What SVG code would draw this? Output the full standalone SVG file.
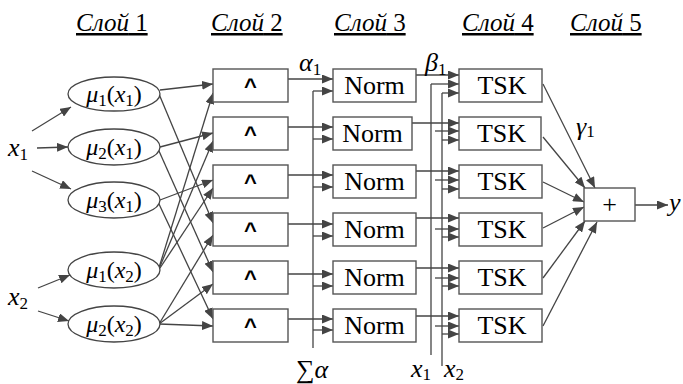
<svg xmlns="http://www.w3.org/2000/svg" width="683" height="384" viewBox="0 0 683 384">
  <defs>
    <marker id="arr" markerUnits="userSpaceOnUse" markerWidth="11" markerHeight="9" refX="11" refY="4.5" orient="auto">
      <path d="M0,0 L11,4.5 L0,9 z" fill="#444"/>
    </marker>
    <style>
      .it { font-style: italic; }
      .title { font-size: 25px; text-decoration: underline; }
      .lbl { font-size: 26px; }
      .sub { font-size: 17px; }
      .mu { font-size: 24px; }
      .box { fill: #fff; stroke: #555; stroke-width: 1.4; }
      .ell { fill: #fff; stroke: #444; stroke-width: 1.3; }
      .c { fill: none; stroke: #444; stroke-width: 1.3; }
      .a { fill: none; stroke: #444; stroke-width: 1.3; marker-end: url(#arr); }
      .op { font-weight: bold; font-size: 22px; }
    </style>
  </defs>
  <rect width="683" height="384" fill="#fff"/>

  <!-- layer titles -->
  <g id="titles" font-family="Liberation Serif">
    <text class="title" x="76" y="31"><tspan class="it">&#1057;&#1083;&#1086;&#1081;</tspan> 1</text>
    <text class="title" x="211" y="31"><tspan class="it">&#1057;&#1083;&#1086;&#1081;</tspan> 2</text>
    <text class="title" x="334" y="31"><tspan class="it">&#1057;&#1083;&#1086;&#1081;</tspan> 3</text>
    <text class="title" x="462" y="31"><tspan class="it">&#1057;&#1083;&#1086;&#1081;</tspan> 4</text>
    <text class="title" x="570" y="31"><tspan class="it">&#1057;&#1083;&#1086;&#1081;</tspan> 5</text>
  </g>

  <!-- connectors -->
  <g id="connectors">
    <!-- inputs to membership functions -->
    <line class="a" x1="32" y1="131" x2="71" y2="107"/>
    <line class="a" x1="37" y1="148" x2="68" y2="147"/>
    <line class="a" x1="32" y1="171" x2="71" y2="189"/>
    <line class="a" x1="38" y1="288" x2="70" y2="275"/>
    <line class="a" x1="38" y1="311" x2="69" y2="321"/>

    <!-- membership functions to rule nodes -->
    <line class="a" x1="160" y1="90" x2="213" y2="84"/>
    <line class="a" x1="159" y1="94" x2="213" y2="223"/>
    <line class="a" x1="160" y1="147" x2="213" y2="133"/>
    <line class="a" x1="159" y1="151" x2="213" y2="272"/>
    <line class="a" x1="160" y1="200" x2="213" y2="180"/>
    <line class="a" x1="159" y1="204" x2="213" y2="319"/>
    <line class="a" x1="158" y1="271" x2="213" y2="93"/>
    <line class="a" x1="158" y1="271" x2="213" y2="141"/>
    <line class="a" x1="158" y1="271" x2="213" y2="188"/>
    <line class="a" x1="159" y1="324" x2="213" y2="235"/>
    <line class="a" x1="159" y1="324" x2="213" y2="284"/>
    <line class="a" x1="159" y1="324" x2="213" y2="326"/>

    <!-- layer 2 to layer 3 -->
    <line class="a" x1="288" y1="79" x2="333" y2="79"/>
    <line class="a" x1="288" y1="127" x2="333" y2="127"/>
    <line class="a" x1="288" y1="175" x2="333" y2="175"/>
    <line class="a" x1="288" y1="224" x2="333" y2="224"/>
    <line class="a" x1="288" y1="274" x2="333" y2="274"/>
    <line class="a" x1="288" y1="319" x2="333" y2="319"/>
    <!-- sum bus -->
    <line class="c" x1="313" y1="91" x2="313" y2="348"/>
    <line class="a" x1="313" y1="91" x2="333" y2="91"/>
    <line class="a" x1="313" y1="139" x2="333" y2="139"/>
    <line class="a" x1="313" y1="187" x2="333" y2="187"/>
    <line class="a" x1="313" y1="236" x2="333" y2="236"/>
    <line class="a" x1="313" y1="286" x2="333" y2="286"/>
    <line class="a" x1="313" y1="330" x2="333" y2="330"/>

    <!-- layer 3 to layer 4 -->
    <line class="a" x1="416" y1="75" x2="459" y2="75"/>
    <line class="a" x1="412" y1="123" x2="459" y2="123"/>
    <line class="a" x1="416" y1="171" x2="459" y2="171"/>
    <line class="a" x1="416" y1="218" x2="459" y2="218"/>
    <line class="a" x1="416" y1="268" x2="459" y2="268"/>
    <line class="a" x1="416" y1="316" x2="459" y2="316"/>
    <!-- input buses x1, x2 -->
    <line class="c" x1="431" y1="84" x2="431" y2="355"/>
    <line class="c" x1="442" y1="93" x2="442" y2="366"/>
    <line class="a" x1="431" y1="84" x2="459" y2="84"/>
    <line class="a" x1="442" y1="93" x2="459" y2="93"/>
    <line class="a" x1="435" y1="131" x2="459" y2="131"/>
    <line class="a" x1="442" y1="140" x2="459" y2="140"/>
    <line class="a" x1="435" y1="180" x2="459" y2="180"/>
    <line class="a" x1="442" y1="189" x2="459" y2="189"/>
    <line class="a" x1="435" y1="229" x2="459" y2="229"/>
    <line class="a" x1="442" y1="237" x2="459" y2="237"/>
    <line class="a" x1="435" y1="278" x2="459" y2="278"/>
    <line class="a" x1="442" y1="286" x2="459" y2="286"/>
    <line class="a" x1="435" y1="326" x2="459" y2="326"/>
    <line class="a" x1="442" y1="334" x2="459" y2="334"/>

    <!-- layer 4 to summation -->
    <line class="a" x1="543" y1="84" x2="595" y2="188"/>
    <line class="a" x1="543" y1="137" x2="585" y2="188"/>
    <line class="a" x1="543" y1="182" x2="584" y2="202"/>
    <line class="a" x1="543" y1="228" x2="584" y2="207"/>
    <line class="a" x1="543" y1="278" x2="585" y2="221"/>
    <line class="a" x1="543" y1="326" x2="597" y2="222"/>

    <!-- output -->
    <line class="a" x1="635" y1="205" x2="668" y2="205"/>
  </g>

  <!-- input labels -->
  <g id="inputs" font-family="Liberation Serif">
    <text class="lbl" x="8" y="156"><tspan class="it">x</tspan><tspan class="sub" dy="4">1</tspan></text>
    <text class="lbl" x="8" y="305"><tspan class="it">x</tspan><tspan class="sub" dy="4">2</tspan></text>
  </g>

  <!-- layer 1: membership functions -->
  <g font-family="Liberation Serif" text-anchor="middle">
    <g id="mu1x1">
      <ellipse class="ell" cx="114" cy="94" rx="46" ry="17"/>
      <text class="mu" x="114" y="102"><tspan class="it">&#956;</tspan><tspan class="sub" dy="4">1</tspan><tspan dy="-4">(</tspan><tspan class="it">x</tspan><tspan class="sub" dy="4">1</tspan><tspan dy="-4">)</tspan></text>
    </g>
    <g id="mu2x1">
      <ellipse class="ell" cx="114" cy="147" rx="46" ry="18"/>
      <text class="mu" x="114" y="155"><tspan class="it">&#956;</tspan><tspan class="sub" dy="4">2</tspan><tspan dy="-4">(</tspan><tspan class="it">x</tspan><tspan class="sub" dy="4">1</tspan><tspan dy="-4">)</tspan></text>
    </g>
    <g id="mu3x1">
      <ellipse class="ell" cx="114" cy="200" rx="46" ry="18"/>
      <text class="mu" x="114" y="208"><tspan class="it">&#956;</tspan><tspan class="sub" dy="4">3</tspan><tspan dy="-4">(</tspan><tspan class="it">x</tspan><tspan class="sub" dy="4">1</tspan><tspan dy="-4">)</tspan></text>
    </g>
    <g id="mu1x2">
      <ellipse class="ell" cx="114" cy="270" rx="46" ry="18"/>
      <text class="mu" x="114" y="278"><tspan class="it">&#956;</tspan><tspan class="sub" dy="4">1</tspan><tspan dy="-4">(</tspan><tspan class="it">x</tspan><tspan class="sub" dy="4">2</tspan><tspan dy="-4">)</tspan></text>
    </g>
    <g id="mu2x2">
      <ellipse class="ell" cx="114" cy="324" rx="46" ry="18"/>
      <text class="mu" x="114" y="332"><tspan class="it">&#956;</tspan><tspan class="sub" dy="4">2</tspan><tspan dy="-4">(</tspan><tspan class="it">x</tspan><tspan class="sub" dy="4">2</tspan><tspan dy="-4">)</tspan></text>
    </g>
  </g>

  <!-- layer 2: rule (AND) nodes -->
  <g font-family="Liberation Sans" text-anchor="middle">
    <g id="and1"><rect class="box" x="213" y="69" width="75" height="33"/><text class="op" x="250.5" y="94">^</text></g>
    <g id="and2"><rect class="box" x="213" y="117" width="75" height="33"/><text class="op" x="250.5" y="142">^</text></g>
    <g id="and3"><rect class="box" x="213" y="165" width="75" height="33"/><text class="op" x="250.5" y="190">^</text></g>
    <g id="and4"><rect class="box" x="213" y="213" width="75" height="33"/><text class="op" x="250.5" y="238">^</text></g>
    <g id="and5"><rect class="box" x="213" y="261" width="75" height="33"/><text class="op" x="250.5" y="286">^</text></g>
    <g id="and6"><rect class="box" x="213" y="309" width="75" height="33"/><text class="op" x="250.5" y="334">^</text></g>
  </g>

  <!-- layers 3 and 4: normalisation and TSK consequents, layer 5: summation -->
  <g font-family="Liberation Serif" text-anchor="middle">
    <g id="norm1"><rect class="box" x="333" y="69" width="83" height="33"/><text class="lbl" x="374.5" y="94">Norm</text></g>
    <g id="norm2"><rect class="box" x="333" y="117" width="79" height="33"/><text class="lbl" x="372.5" y="142">Norm</text></g>
    <g id="norm3"><rect class="box" x="333" y="165" width="83" height="33"/><text class="lbl" x="374.5" y="190">Norm</text></g>
    <g id="norm4"><rect class="box" x="333" y="213" width="83" height="33"/><text class="lbl" x="374.5" y="238">Norm</text></g>
    <g id="norm5"><rect class="box" x="333" y="261" width="83" height="33"/><text class="lbl" x="374.5" y="286">Norm</text></g>
    <g id="norm6"><rect class="box" x="333" y="309" width="83" height="33"/><text class="lbl" x="374.5" y="334">Norm</text></g>

    <g id="tsk1"><rect class="box" x="459" y="69" width="83" height="33"/><text class="lbl" x="502" y="94">TSK</text></g>
    <g id="tsk2"><rect class="box" x="459" y="117" width="82" height="33"/><text class="lbl" x="501.5" y="142">TSK</text></g>
    <g id="tsk3"><rect class="box" x="459" y="165" width="83" height="33"/><text class="lbl" x="502" y="190">TSK</text></g>
    <g id="tsk4"><rect class="box" x="459" y="213" width="83" height="33"/><text class="lbl" x="502" y="238">TSK</text></g>
    <g id="tsk5"><rect class="box" x="459" y="261" width="83" height="33"/><text class="lbl" x="502" y="286">TSK</text></g>
    <g id="tsk6"><rect class="box" x="459" y="309" width="83" height="33"/><text class="lbl" x="502" y="334">TSK</text></g>

    <g id="sum"><rect class="box" x="584" y="188" width="51" height="33"/><text class="lbl" x="609.5" y="213">+</text></g>
  </g>

  <!-- output and signal labels -->
  <g font-family="Liberation Serif">
    <g id="output"><text class="lbl it" x="669" y="211">y</text></g>
    <text class="lbl" x="299" y="71"><tspan class="it">&#945;</tspan><tspan class="sub" dy="4">1</tspan></text>
    <text class="lbl" x="425" y="71"><tspan class="it">&#946;</tspan><tspan class="sub" dy="4">1</tspan></text>
    <text class="lbl" x="576" y="135"><tspan class="it">&#947;</tspan><tspan class="sub" dy="2">1</tspan></text>
    <text class="lbl" x="296" y="378">&#8721;<tspan class="it">&#945;</tspan></text>
    <text class="lbl" x="411" y="377"><tspan class="it">x</tspan><tspan class="sub" dy="3">1</tspan></text>
    <text class="lbl" x="444" y="377"><tspan class="it">x</tspan><tspan class="sub" dy="3">2</tspan></text>
  </g>
</svg>
